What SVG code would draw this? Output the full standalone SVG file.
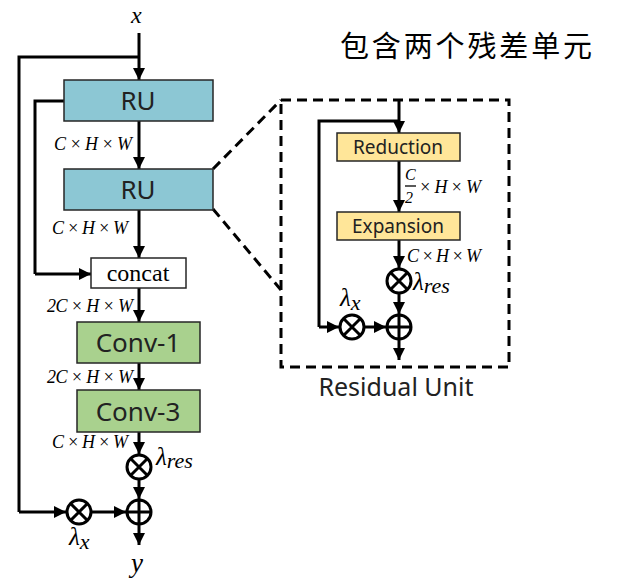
<svg xmlns="http://www.w3.org/2000/svg" width="618" height="580" viewBox="0 0 618 580">
<defs>
<marker id="ah" viewBox="0 0 10 10" refX="10" refY="5" markerWidth="4" markerHeight="4" markerUnits="strokeWidth" orient="auto">
<path d="M0,0 L10,5 L0,10 z" fill="#000"/>
</marker>
<style>
.ln{fill:none;stroke:#000;stroke-width:3}
.ar{fill:none;stroke:#000;stroke-width:3;marker-end:url(#ah)}
.dash{fill:none;stroke:#000;stroke-width:3;stroke-dasharray:10 6}
.box{stroke:#262626;stroke-width:1.5}
.ru{fill:#8cc7d4}
.cv{fill:#a9d18e}
.yl{fill:#ffe699}
.lbl{font-family:"Noto Sans","Open Sans",sans-serif;fill:#222;text-anchor:middle}
.serif{font-family:"Liberation Serif","DejaVu Serif",serif;fill:#000;text-anchor:middle}
.m{font-family:"Liberation Serif","DejaVu Serif",serif;font-style:italic;fill:#000}
.op{fill:#fff;stroke:#000;stroke-width:3}
.cjk{font-family:"Noto Sans CJK SC",sans-serif;fill:#000;text-anchor:middle}
</style>
</defs>
<rect width="618" height="580" fill="#fff"/>
<text class="cjk" x="466" y="57" font-size="29" textLength="252">包含两个残差单元</text>

<g id="connectors">
<path class="ar" d="M139,33 V80"/>
<path class="ln" d="M139,57 H19 V512"/>
<path class="ar" d="M19,512 H66"/>
<path class="ar" d="M139,121 V169"/>
<path class="ar" d="M139,210 V258"/>
<path class="ln" d="M64,101 H35 V274"/>
<path class="ar" d="M35,274 H91"/>
<path class="ar" d="M139,288 V322"/>
<path class="ar" d="M139,363 V390"/>
<path class="ar" d="M139,432 V454"/>
<path class="ar" d="M139,480 V499"/>
<path class="ar" d="M92,512 H126"/>
<path class="ar" d="M139,525 V545"/>
<path class="dash" d="M213,169 L281,100"/>
<path class="dash" d="M213,209 L281,290"/>
<path class="ar" d="M399,101 V133"/>
<path class="ln" d="M399,121 H319 V327"/>
<path class="ar" d="M319,327 H339"/>
<path class="ar" d="M399,161 V212"/>
<path class="ar" d="M399,240 V268"/>
<path class="ar" d="M399,294 V314"/>
<path class="ar" d="M365,327 H386"/>
<path class="ar" d="M399,340 V360"/>
</g>

<g id="residual-unit-frame">
<rect class="dash" x="281" y="100" width="228" height="267"/>
<text class="lbl" x="396" y="396" font-size="25" fill="#222">Residual Unit</text>
</g>

<g id="ru1"><rect class="box ru" x="64" y="80" width="149" height="41"/><text class="lbl" x="138" y="110" font-size="26">RU</text></g>
<g id="ru2"><rect class="box ru" x="64" y="169" width="149" height="41"/><text class="lbl" x="138" y="199" font-size="26">RU</text></g>
<g id="concat"><rect class="box" fill="#fff" x="91" y="258" width="95" height="30"/><text class="serif" x="138" y="281" font-size="24" font-family="Liberation Serif">concat</text></g>
<g id="conv1"><rect class="box cv" x="77" y="322" width="123" height="41"/><text class="lbl" x="138" y="352" font-size="26">Conv-1</text></g>
<g id="conv3"><rect class="box cv" x="77" y="390" width="123" height="42"/><text class="lbl" x="138" y="421" font-size="26">Conv-3</text></g>

<g id="mul-res"><circle class="op" cx="139" cy="467" r="12"/><path class="ln" d="M131,459 L147,475 M147,459 L131,475"/></g>
<g id="add-out"><circle class="op" cx="139" cy="512" r="12"/><path class="ln" d="M127,512 H151 M139,500 V524"/></g>
<g id="mul-x"><circle class="op" cx="79" cy="512" r="12"/><path class="ln" d="M71,504 L87,520 M87,504 L71,520"/></g>

<g id="reduction"><rect class="box yl" x="337" y="133" width="123" height="28"/><text class="lbl" x="398" y="154" font-size="19">Reduction</text></g>
<g id="expansion"><rect class="box yl" x="337" y="212" width="123" height="28"/><text class="lbl" x="398" y="233" font-size="19">Expansion</text></g>
<g id="in-mul-res"><circle class="op" cx="399" cy="281" r="12"/><path class="ln" d="M391,273 L407,289 M407,273 L391,289"/></g>
<g id="in-add"><circle class="op" cx="399" cy="327" r="12"/><path class="ln" d="M387,327 H411 M399,315 V339"/></g>
<g id="in-mul-x"><circle class="op" cx="352" cy="327" r="12"/><path class="ln" d="M344,319 L360,335 M360,319 L344,335"/></g>

<g id="labels">
<text class="m" x="131" y="23" font-size="24">x</text>
<text class="m" x="54" y="150" font-size="18" textLength="78">C × H × W</text>
<text class="m" x="52" y="234" font-size="18" textLength="76">C × H × W</text>
<text class="m" x="47" y="312" font-size="18" textLength="86">2C × H × W</text>
<text class="m" x="47" y="383" font-size="18" textLength="86">2C × H × W</text>
<text class="m" x="52" y="448" font-size="18" textLength="76">C × H × W</text>
<text class="m" x="156" y="465" font-size="25">λ<tspan font-size="22" dy="3">res</tspan></text>
<text class="m" x="69" y="545" font-size="25">λ<tspan font-size="22" dy="4">x</tspan></text>
<text class="m" x="131" y="572" font-size="27">y</text>
<text class="m" x="405" y="180" font-size="16">C</text>
<path d="M405,186 H416" stroke="#000" stroke-width="1.3"/>
<text class="m" x="405" y="203" font-size="16" font-style="normal">2</text>
<text class="m" x="419" y="193" font-size="18" textLength="62">× H × W</text>
<text class="m" x="407" y="262" font-size="18" textLength="74">C × H × W</text>
<text class="m" x="413" y="290" font-size="25">λ<tspan font-size="22" dy="3">res</tspan></text>
<text class="m" x="340" y="306" font-size="25">λ<tspan font-size="22" dy="4">x</tspan></text>
</g>
</svg>
